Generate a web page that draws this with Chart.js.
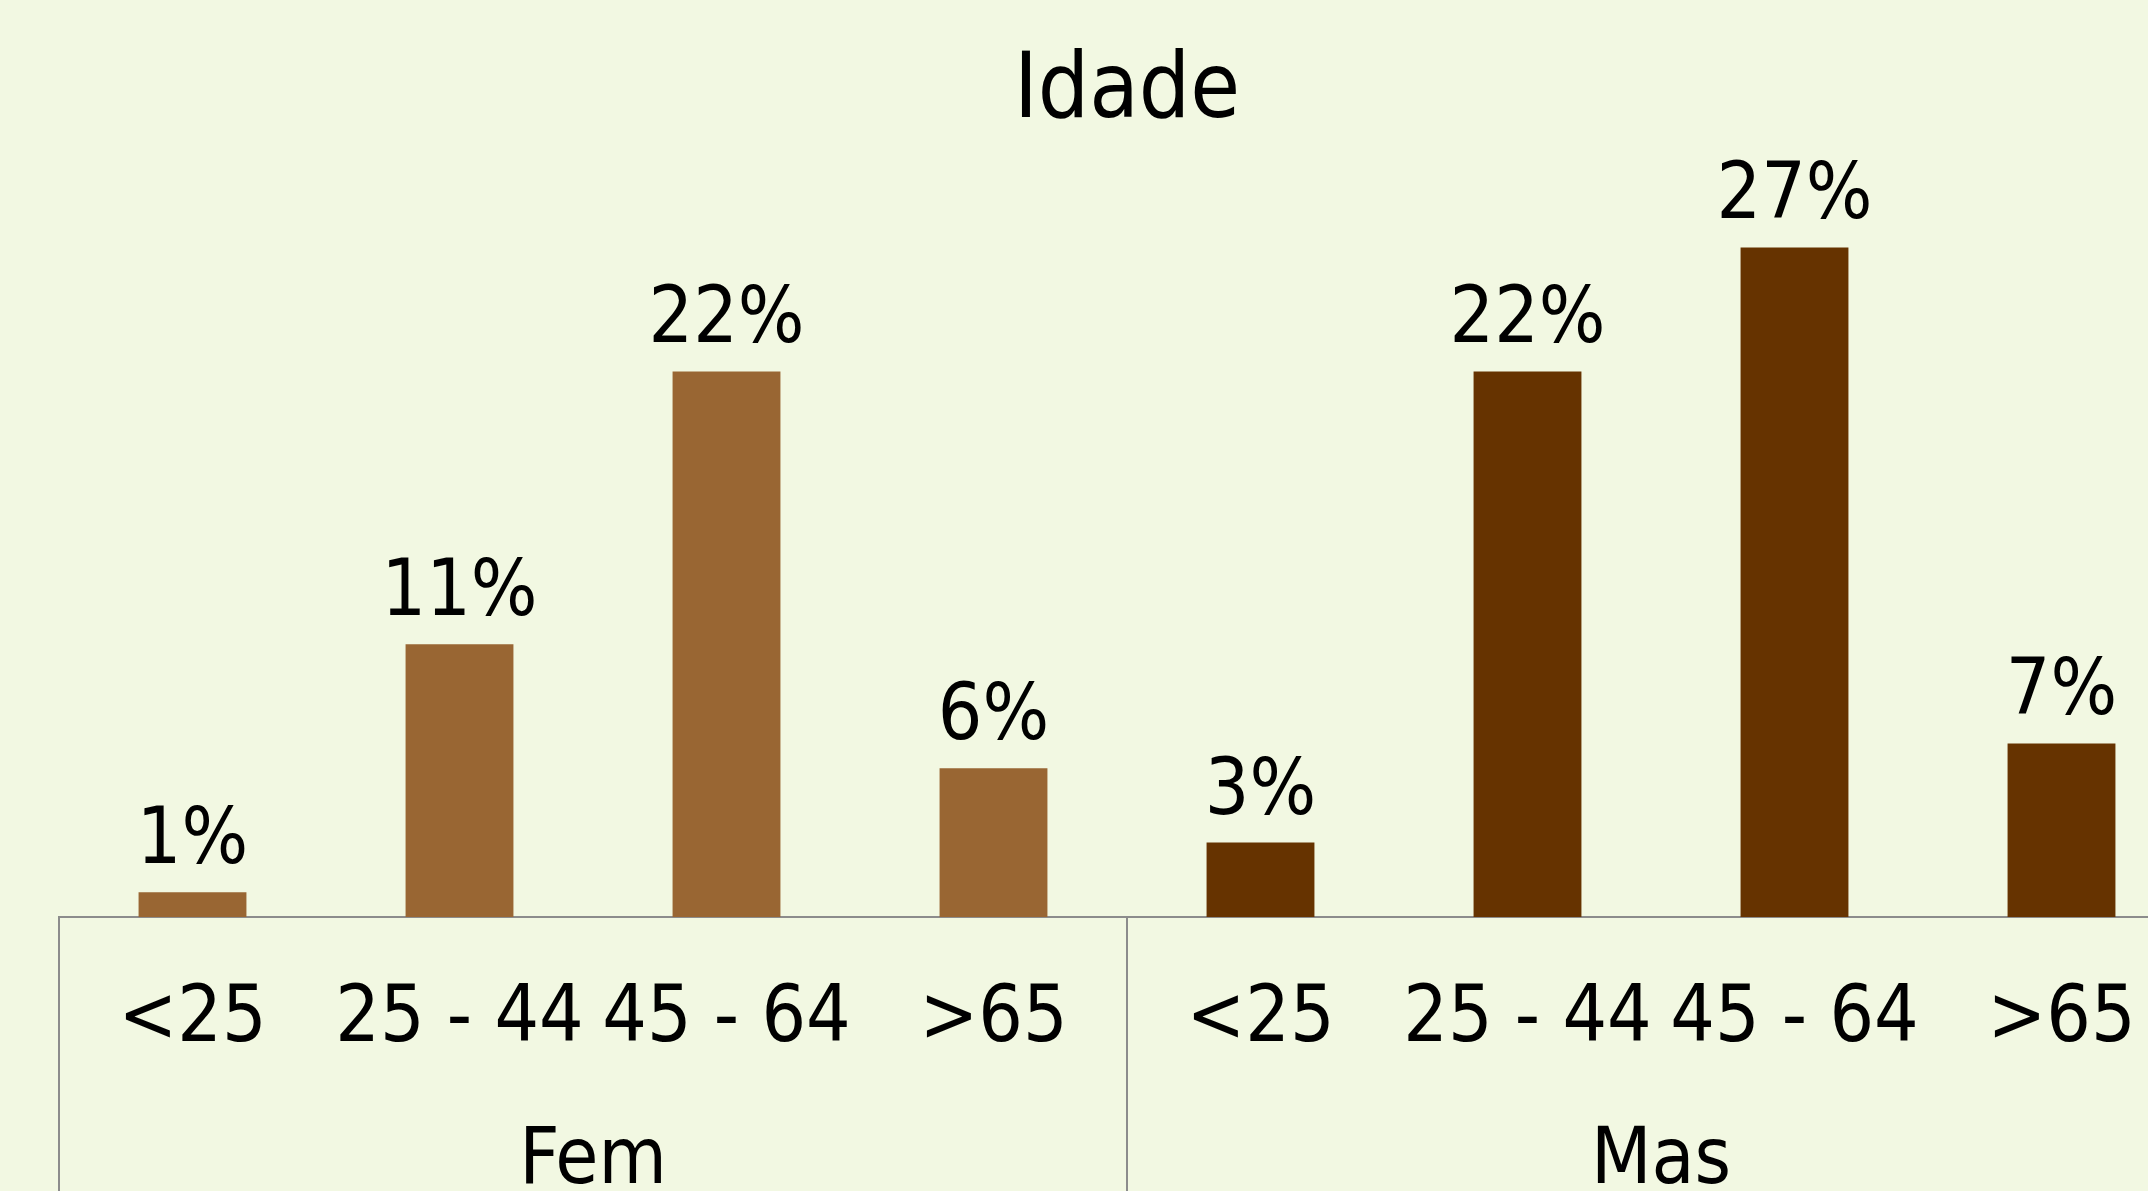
<!DOCTYPE html>
<html lang="pt">
<head>
    <meta charset="UTF-8">
    <title>Idade</title>
    <script src="https://cdn.jsdelivr.net/npm/chart.js"></script>
    <style>
        body {
            margin: 0;
            padding: 0;
            overflow: hidden;
            background-color: #f2f8e2;
        }
        canvas {
            display: block;
        }
    </style>
</head>
<body>
    <canvas id="myChart" width="2300" height="1191"></canvas>

    <script>
        // data
        var ageGroups = ['<25', '25 - 44', '45 - 64', '>65'];
        var genders = ['Fem', 'Mas'];
        var femValues = [1, 11, 22, 6];
        var masValues = [3, 22, 27, 7];
        var genderColors = ['#996633', '#663300'];

        var FONT = "'DejaVu Sans Condensed', 'DejaVu Sans', sans-serif";

        var labels = [];
        var values = [];
        var colors = [];
        [femValues, masValues].forEach(function (vals, g) {
            vals.forEach(function (v, i) {
                labels.push(ageGroups[i]);
                values.push(v);
                colors.push(genderColors[g]);
            });
        });

        // value labels above bars, gender groups under the axis
        var extras = {
            id: 'extras',
            afterDatasetsDraw: function (chart) {
                var ctx = chart.ctx;
                var meta = chart.getDatasetMeta(0);
                ctx.save();
                ctx.fillStyle = '#000';
                ctx.font = '78px ' + FONT;
                ctx.textAlign = 'center';
                ctx.textBaseline = 'alphabetic';
                meta.data.forEach(function (bar, i) {
                    ctx.fillText(values[i] + '%', bar.x, bar.y - 29);
                });
                ctx.restore();
            },
            afterDraw: function (chart) {
                var ctx = chart.ctx;
                var x = chart.scales.x;
                var n = ageGroups.length;
                ctx.save();
                ctx.strokeStyle = '#8c8c8c';
                ctx.lineWidth = 2;
                for (var g = 0; g <= genders.length; g++) {
                    var px = Math.round(x.getPixelForValue(g * n - 0.5));
                    ctx.beginPath();
                    ctx.moveTo(px, x.top);
                    ctx.lineTo(px, chart.height);
                    ctx.stroke();
                }
                ctx.fillStyle = '#000';
                ctx.font = '78px ' + FONT;
                ctx.textAlign = 'center';
                ctx.textBaseline = 'alphabetic';
                genders.forEach(function (name, g) {
                    var l = x.getPixelForValue(g * n - 0.5);
                    var r = x.getPixelForValue((g + 1) * n - 0.5);
                    ctx.fillText(name, (l + r) / 2, x.top + 266);
                });
                ctx.restore();
            }
        };

        var ctx = document.getElementById('myChart').getContext('2d');
        var myChart = new Chart(ctx, {
            type: 'bar',
            data: {
                labels: labels,
                datasets: [{
                    data: values,
                    backgroundColor: colors,
                    borderWidth: 0,
                    barPercentage: 0.404,
                    categoryPercentage: 1
                }]
            },
            options: {
                responsive: false,
                animation: false,
                layout: {
                    padding: { left: 59, right: 105, top: 0, bottom: 0 }
                },
                scales: {
                    x: {
                        grid: { display: false },
                        border: { display: true, color: '#8c8c8c', width: 2 },
                        ticks: {
                            color: '#000',
                            padding: 49,
                            maxRotation: 0,
                            autoSkip: false,
                            font: { family: FONT, size: 78 }
                        },
                        afterFit: function (scale) { scale.height = 274; }
                    },
                    y: {
                        display: false,
                        min: 0,
                        max: 30
                    }
                },
                plugins: {
                    legend: { display: false },
                    tooltip: { enabled: false },
                    title: {
                        display: true,
                        text: 'Idade',
                        color: '#000',
                        padding: { top: 40, bottom: 25 },
                        font: { family: FONT, size: 90, weight: 'normal', lineHeight: 1.2 }
                    }
                }
            },
            plugins: [extras]
        });
    </script>
</body>
</html>
